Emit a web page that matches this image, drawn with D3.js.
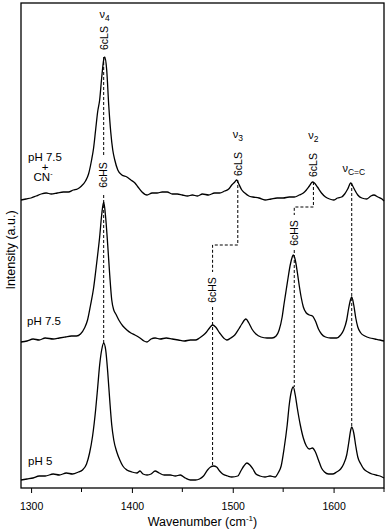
<!DOCTYPE html>
<html>
<head>
<meta charset="utf-8">
<script src="https://cdn.jsdelivr.net/npm/d3@7"></script>
<style>
  body { margin: 0; background: #fff; }
  text { font-family: "Liberation Sans", Arial, sans-serif; fill: #000; }
</style>
</head>
<body>
<div class="chart"></div>
<script>
// Raman spectra, [wavenumber (cm-1), intensity (a.u., stacked)]
const pH5 = [
  [1290,8],[1296,9],[1302,10],[1308,12],[1314,12],[1322,14],[1328,13],[1335,15],[1341,14],[1347,16],
  [1351,18],[1355,24],[1358,35],[1361,52],[1364,78],[1366,100],[1368,123],[1370,138],[1372,145],[1374,138],
  [1376,116],[1378,88],[1380,63],[1382,48],[1385,36],[1388,28],[1391,22],[1395,18],[1400,16],[1405,15],
  [1408,17],[1411,14],[1415,13],[1419,14],[1423,17],[1427,15],[1432,13],[1438,13],[1443,12],[1448,13],
  [1453,10],[1458,8],[1463,8],[1467,9],[1471,12],[1475,18],[1478,21],[1481,22],[1484,21],[1487,17],
  [1490,14],[1495,12],[1499,11],[1505,12],[1508,17],[1511,22],[1514,25],[1517,23],[1520,19],[1523,14],
  [1527,12],[1532,11],[1537,12],[1542,11],[1545,15],[1548,22],[1551,40],[1554,63],[1556,83],[1558,96],
  [1560,101],[1562,93],[1564,80],[1567,63],[1570,50],[1573,42],[1576,39],[1579,40],[1582,36],[1585,28],
  [1588,20],[1591,16],[1595,14],[1599,14],[1603,16],[1607,19],[1610,24],[1613,33],[1615,45],[1617,58],
  [1618,61],[1620,55],[1622,42],[1624,31],[1627,24],[1630,19],[1634,16],[1638,14],[1642,13],[1646,12],[1650,10]
];
const pH75 = [
  [1290,146],[1296,147],[1302,149],[1308,148],[1314,150],[1322,149],[1328,150],[1334,151],[1340,152],[1345,152],
  [1349,154],[1353,160],[1356,168],[1359,183],[1362,200],[1364,216],[1366,233],[1368,251],[1370,273],[1372,286],
  [1374,270],[1376,243],[1378,213],[1380,188],[1382,178],[1384,174],[1387,168],[1391,162],[1395,158],[1399,155],
  [1403,153],[1408,150],[1412,147],[1415,146],[1419,149],[1423,150],[1428,149],[1434,150],[1440,149],[1446,148],
  [1452,147],[1458,148],[1463,148],[1467,150],[1471,153],[1474,156],[1477,160],[1480,163],[1483,161],[1487,155],
  [1491,150],[1494,148],[1498,150],[1502,153],[1506,159],[1509,164],[1513,169],[1516,165],[1519,159],[1523,154],
  [1528,151],[1534,150],[1539,150],[1543,152],[1546,158],[1549,171],[1551,185],[1553,198],[1555,211],[1557,223],
  [1559,231],[1560,233],[1562,228],[1564,216],[1566,202],[1568,190],[1570,181],[1573,175],[1576,173],[1579,172],
  [1582,167],[1585,159],[1588,154],[1592,151],[1597,150],[1603,150],[1607,153],[1610,158],[1613,168],[1615,180],
  [1617,189],[1618,191],[1620,183],[1622,170],[1624,161],[1627,155],[1631,152],[1636,150],[1641,149],[1646,148],[1650,147]
];
const pH75CN = [
  [1290,288],[1295,289],[1300,290],[1305,292],[1310,294],[1315,295],[1320,294],[1326,295],[1332,296],[1337,296],
  [1342,298],[1346,299],[1350,302],[1354,307],[1357,314],[1360,328],[1362,340],[1364,358],[1366,376],[1368,388],
  [1370,410],[1372,428],[1373,431],[1375,418],[1377,383],[1379,356],[1381,338],[1383,328],[1386,318],[1390,313],
  [1395,311],[1399,308],[1403,305],[1406,301],[1410,296],[1415,293],[1420,295],[1425,295],[1430,296],[1435,296],
  [1440,294],[1445,294],[1450,293],[1455,292],[1460,293],[1465,292],[1470,294],[1476,293],[1482,295],[1487,295],
  [1492,297],[1496,299],[1499,303],[1502,306],[1504,308],[1506,304],[1509,298],[1512,295],[1516,292],[1520,291],
  [1526,290],[1532,288],[1538,289],[1544,290],[1550,290],[1556,291],[1561,291],[1566,293],[1570,295],[1573,298],
  [1576,302],[1579,306],[1581,305],[1584,301],[1588,295],[1592,291],[1596,289],[1600,288],[1604,290],[1608,291],
  [1611,294],[1614,299],[1617,305],[1619,302],[1621,298],[1624,293],[1628,290],[1633,289],[1637,292],[1640,293],
  [1644,291],[1648,289],[1650,287]
];

const xTicks = [1300, 1400, 1500, 1600];
const xMinor = [1350, 1450, 1550, 1650];

// dashed guides linking the bands, [wavenumber, intensity]
const guides = [
  [[1372,431],[1372,333]],
  [[1372,293],[1372,145]],
  [[1505,308],[1505,243],[1480,243],[1480,216]],
  [[1480,181],[1480,22]],
  [[1580,306],[1580,281],[1561,281],[1561,273]],
  [[1561,238],[1561,101]],
  [[1618,305],[1618,61]]
];
// rotated spin-state labels: [wavenumber, intensity, text]
const stateLabels = [
  [1372.5,450,"6cLS"],[1372,313,"6cHS"],
  [1505,324,"6cLS"],[1480,198,"6cHS"],
  [1580,323,"6cLS"],[1561,255,"6cHS"]
];
// band labels: [wavenumber, intensity, subscript]
const bandLabels = [
  [1373,470,"4"],[1505,350,"3"],[1580,349,"2"],[1620,316,"C=C"]
];

const W = 387, H = 531;
const margin = {top: 3, right: 3, bottom: 43, left: 21};

const svg = d3.select(".chart").append("svg")
  .attr("width", W).attr("height", H);

const x = d3.scaleLinear().domain([1290, 1650]).range([margin.left, W - margin.right]);
const y = d3.scaleLinear().domain([0, 485]).range([H - margin.bottom, margin.top]);

// spectra
const line = d3.line().x(d => x(d[0])).y(d => y(d[1])).curve(d3.curveMonotoneX);
svg.selectAll(".spec")
  .data([pH5, pH75, pH75CN])
  .enter().append("path")
    .attr("class", "spec")
    .attr("d", line)
    .attr("fill", "none")
    .attr("stroke", "#000")
    .attr("stroke-width", 1.3)
    .attr("stroke-linejoin", "round");

// guides
const gline = d3.line().x(d => x(d[0])).y(d => y(d[1]));
svg.selectAll(".guide")
  .data(guides)
  .enter().append("path")
    .attr("d", gline)
    .attr("fill", "none")
    .attr("stroke", "#000")
    .attr("stroke-width", 1)
    .attr("stroke-dasharray", "3,2");

svg.selectAll(".state")
  .data(stateLabels)
  .enter().append("text")
    .attr("transform", d => `translate(${x(d[0])},${y(d[1])}) rotate(-90)`)
    .attr("text-anchor", "middle")
    .attr("dy", "0.36em")
    .style("font-size", "10.5px")
    .text(d => d[2]);

const band = svg.selectAll(".band")
  .data(bandLabels)
  .enter().append("text")
    .attr("x", d => x(d[0]))
    .attr("y", d => y(d[1]))
    .attr("text-anchor", "middle")
    .style("font-size", "11px");
band.append("tspan").text("\u03bd");
band.append("tspan").attr("dy", 3).style("font-size", "8.5px").text(d => d[2]);

// sample labels
const cn = svg.append("text").attr("text-anchor", "middle").style("font-size", "11.5px");
cn.append("tspan").attr("x", 45).attr("y", 161).text("pH 7.5");
cn.append("tspan").attr("x", 45).attr("y", 171).text("+");
cn.append("tspan").attr("x", 43).attr("y", 181).text("CN");
cn.append("tspan").attr("dy", -5).style("font-size", "7px").text("-");
svg.append("text").attr("x", 27).attr("y", 325).style("font-size", "11.5px").text("pH 7.5");
svg.append("text").attr("x", 28).attr("y", 465).style("font-size", "11.5px").text("pH 5");

// frame
svg.append("rect")
  .attr("x", x.range()[0]).attr("y", y.range()[1])
  .attr("width", x.range()[1] - x.range()[0])
  .attr("height", y.range()[0] - y.range()[1])
  .attr("fill", "none").attr("stroke", "#000").attr("stroke-width", 1.3);

// x axis
const gx = svg.append("g").attr("transform", `translate(0,${y.range()[0]})`);
gx.call(d3.axisBottom(x).tickValues(xTicks).tickSize(5).tickFormat(d3.format("d")));
gx.selectAll(".minor").data(xMinor).enter().append("line")
  .attr("x1", d => x(d)).attr("x2", d => x(d))
  .attr("y1", 0).attr("y2", 4)
  .attr("stroke", "#000").attr("stroke-width", 1);
gx.select(".domain").remove();
gx.selectAll(".tick line").attr("stroke-width", 1);
gx.selectAll(".tick text")
  .attr("y", 15)
  .style("font-size", "10.5px")
  .style("font-family", "'Liberation Sans', Arial, sans-serif");

const xl = svg.append("text")
  .attr("x", (x.range()[0] + x.range()[1]) / 2)
  .attr("y", 526)
  .attr("text-anchor", "middle")
  .style("font-size", "12.5px");
xl.append("tspan").text("Wavenumber (cm");
xl.append("tspan").attr("dy", -5).style("font-size", "8px").text("-1");
xl.append("tspan").attr("dy", 5).text(")");

svg.append("text")
  .attr("transform", `translate(15,250) rotate(-90)`)
  .attr("text-anchor", "middle")
  .style("font-size", "12.5px")
  .text("Intensity (a.u.)");
</script>
</body>
</html>
